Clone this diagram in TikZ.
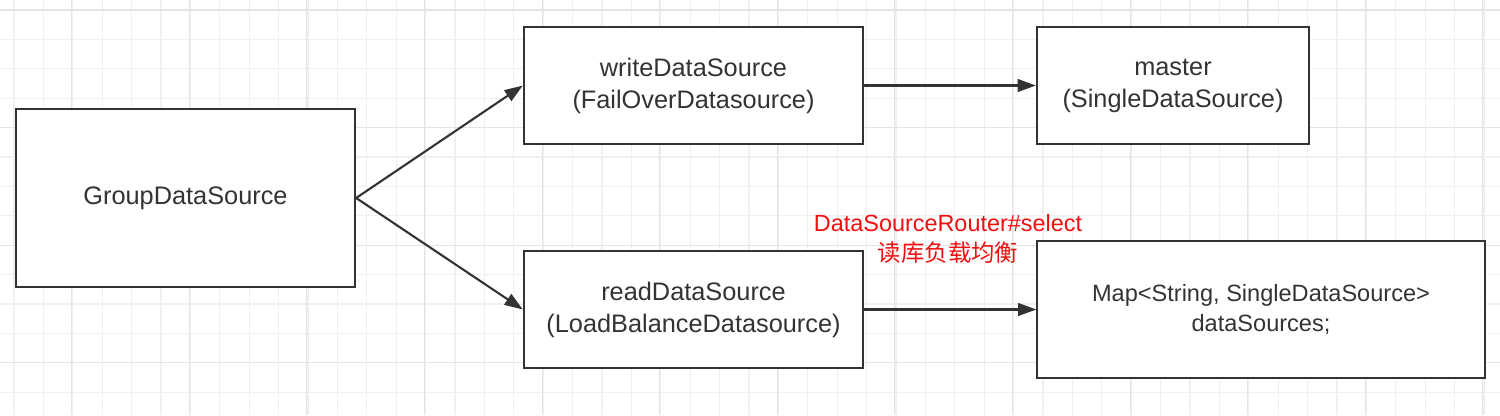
\documentclass[tikz,border=0pt]{standalone}
\usepackage{fontspec}
\setmainfont{Liberation Sans}
\newfontfamily\cjkfont{Noto Sans CJK SC}
\usepackage{xcolor}
\usetikzlibrary{arrows.meta, positioning, calc}

\definecolor{boxline}{HTML}{333333}
\definecolor{routerred}{HTML}{F01010}
\definecolor{gridminor}{HTML}{F0F0F0}
\definecolor{gridmajor}{HTML}{E4E4E4}

\begin{document}
\begin{tikzpicture}[x=0.01cm, y=-0.01cm,
  dsbox/.style={draw=boxline, line width=0.6pt, fill=white, text=boxline, align=center,
    inner sep=0pt, font=\fontsize{7.2}{9.1}\selectfont},
  link/.style={draw=boxline, line width=0.6pt, -{Triangle[length=5.2pt, width=3.6pt]}}]
\useasboundingbox (0,0) rectangle (1500,415);
\fill[white] (0,0) rectangle (1500,415);

% Grid
\foreach \i in {0,...,50} {\draw[gridminor, line width=0.3pt] ({14+29.4*\i},0) -- ({14+29.4*\i},415);}
\foreach \i in {0,...,14} {\draw[gridminor, line width=0.3pt] (0,{10+29.4*\i}) -- (1500,{10+29.4*\i});}
\foreach \i in {0,...,12} {\draw[gridmajor, line width=0.3pt] ({71.7+117.6*\i},0) -- ({71.7+117.6*\i},415);}
\foreach \i in {0,...,3} {\draw[gridmajor, line width=0.3pt] (0,{10+117.6*\i}) -- (1500,{10+117.6*\i});}

% Group data source
\node[dsbox, minimum width=3.39cm, minimum height=1.78cm] (group) at (185.5,198) {GroupDataSource};

% Write and read data sources
\node[dsbox, minimum width=3.39cm, minimum height=1.17cm] (write) at (693.5,85.5)
  {writeDataSource\\(FailOverDatasource)};
\node[dsbox, minimum width=3.39cm, minimum height=1.17cm] (read) at (693.5,309.5)
  {readDataSource\\(LoadBalanceDatasource)};

% Targets
\node[dsbox, minimum width=2.72cm, minimum height=1.17cm] (master) at (1173,85.5)
  {master\\(SingleDataSource)};
\node[dsbox, minimum width=4.47cm, minimum height=1.37cm, font=\fontsize{6.7}{8.3}\selectfont] (map) at (1261,309.5)
  {Map<String, SingleDataSource>\\dataSources;};

% Router label
\node[text=routerred, align=center, inner sep=0pt, font=\fontsize{6.66}{8.5}\selectfont] (router) at (948,239)
  {DataSourceRouter\#select\\{\cjkfont 读库负载均衡}};

% Links
\draw[link] (group.east) -- (write.west);
\draw[link] (group.east) -- (read.west);
\draw[link] (write.east) -- (master.west);
\draw[link] (read.east) -- (map.west);
\end{tikzpicture}
\end{document}
